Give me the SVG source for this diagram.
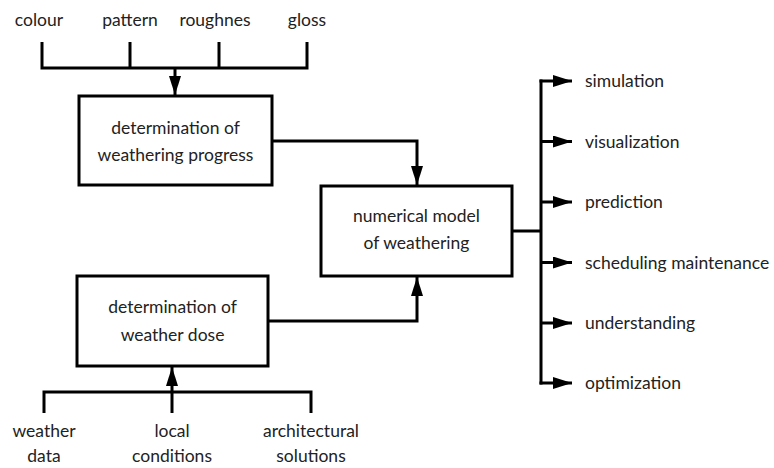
<svg xmlns="http://www.w3.org/2000/svg" width="774" height="468" viewBox="0 0 774 468">
<style>
.box{fill:#fff;stroke:#000;stroke-width:3}
.ln{fill:none;stroke:#000;stroke-width:3}
text{font-family:Lato,"Open Sans",sans-serif;font-size:17.5px;fill:#222}
.c{text-anchor:middle}
</style>
<defs>
<marker id="ah" markerUnits="userSpaceOnUse" markerWidth="20" markerHeight="12" refX="19" refY="6" orient="auto">
<path d="M0,0 L19,6 L0,12 Z" fill="#000"/>
</marker>
</defs>
<g id="connectors">
<path class="ln" d="M42,42 V68 M130,42 V68 M219,42 V68 M307,42 V68 M40.5,68 H308.5"/>
<path class="ln" d="M175,68 V95" marker-end="url(#ah)"/>
<path class="ln" d="M272,141 H417 V185" marker-end="url(#ah)"/>
<path class="ln" d="M268,321 H417 V277" marker-end="url(#ah)"/>
<path class="ln" d="M44,413 V392 H311 V413"/>
<path class="ln" d="M172,413 V367" marker-end="url(#ah)"/>
<path class="ln" d="M512,231 H541 M541,79.5 V384.5"/>
<path class="ln" d="M539.5,81 H572" marker-end="url(#ah)"/>
<path class="ln" d="M541,141.5 H572" marker-end="url(#ah)"/>
<path class="ln" d="M541,202 H572" marker-end="url(#ah)"/>
<path class="ln" d="M541,262.5 H572" marker-end="url(#ah)"/>
<path class="ln" d="M541,323 H572" marker-end="url(#ah)"/>
<path class="ln" d="M539.5,383 H572" marker-end="url(#ah)"/>
</g>
<g id="inputs-top">
<text x="39" y="26" class="c">colour</text>
<text x="130" y="26" class="c">pattern</text>
<text x="215" y="26" class="c">roughnes</text>
<text x="307" y="26" class="c">gloss</text>
</g>
<g id="progress">
<rect class="box" x="79" y="96" width="193" height="89"/>
<text x="175.5" y="134" class="c">determination of</text>
<text x="175.5" y="161" class="c">weathering progress</text>
</g>
<g id="dose">
<rect class="box" x="77" y="276" width="191" height="90"/>
<text x="172.5" y="313" class="c">determination of</text>
<text x="172.5" y="341" class="c">weather dose</text>
</g>
<g id="model">
<rect class="box" x="321" y="186" width="191" height="90"/>
<text x="416.5" y="222" class="c">numerical model</text>
<text x="416.5" y="249" class="c">of weathering</text>
</g>
<g id="inputs-bottom">
<text x="44" y="437" class="c">weather</text>
<text x="44" y="462" class="c">data</text>
<text x="172" y="437" class="c">local</text>
<text x="172" y="462" class="c">conditions</text>
<text x="311" y="437" class="c">architectural</text>
<text x="311" y="462" class="c">solutions</text>
</g>
<g id="outputs">
<text x="585" y="87">simulation</text>
<text x="585" y="148">visualization</text>
<text x="585" y="208">prediction</text>
<text x="585" y="269">scheduling maintenance</text>
<text x="585" y="329">understanding</text>
<text x="585" y="389">optimization</text>
</g>
</svg>
